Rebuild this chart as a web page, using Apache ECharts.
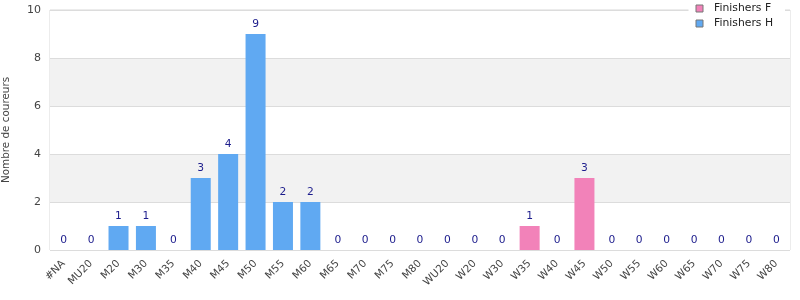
<!DOCTYPE html>
<html><head><meta charset="utf-8">
<script src="https://cdn.jsdelivr.net/npm/echarts@6/dist/echarts.min.js"></script>
<style>html,body{margin:0;padding:0;background:#fff}#c{width:800px;height:300px}</style>
</head><body><div id="c"></div>
<script>
var categories = ['#NA','MU20','M20','M30','M35','M40','M45','M50','M55','M60','M65','M70','M75','M80','WU20','W20','W30','W35','W40','W45','W50','W55','W60','W65','W70','W75','W80'];
var finishersH = [0,0,1,1,0,3,4,9,2,2,0,0,0,0,'-','-','-','-','-','-','-','-','-','-','-','-','-'];
var finishersF = ['-','-','-','-','-','-','-','-','-','-','-','-','-','-',0,0,0,1,0,3,0,0,0,0,0,0,0];
var yTicks = [0,2,4,6,8,10];

var FONT = 'DejaVu Sans';
var FS = 10.4;
var chart = echarts.init(document.getElementById('c'), null, {renderer:'canvas'});
var lbl = {show:true, position:'top', color:'#1c1c8c', fontFamily:FONT, fontSize:FS+0.3, distance:4};
chart.setOption({
  animation:false,
  textStyle:{fontFamily:FONT},
  grid:{left:50, right:10, top:10, bottom:50, show:true, borderColor:'#d9d9d9', borderWidth:1, containLabel:false, outerBoundsMode:'none'},
  legend:{
    orient:'vertical', right:15, top:1, itemWidth:7, itemHeight:7, itemGap:4,
    backgroundColor:'#fff', padding:[2,12,2,7],
    icon:'rect',
    textStyle:{fontFamily:FONT, fontSize:FS+0.4, color:'#222', padding:[0,0,0,6]},
    data:[{name:'Finishers F', itemStyle:{borderColor:'#777',borderWidth:1}},{name:'Finishers H', itemStyle:{borderColor:'#777',borderWidth:1}}]
  },
  xAxis:{
    type:'category', data:categories,
    axisLine:{show:false}, axisTick:{show:false},
    axisLabel:{rotate:45, interval:0, fontFamily:FONT, fontSize:FS, color:'#444', margin:12}
  },
  yAxis:{
    type:'value', min:yTicks[0], max:yTicks[yTicks.length-1], interval:2,
    name:'Nombre de coureurs', nameLocation:'middle', nameGap:39, nameRotate:90,
    nameTextStyle:{fontFamily:FONT, fontSize:FS, color:'#444'},
    axisLine:{show:false}, axisTick:{show:false},
    axisLabel:{fontFamily:FONT, fontSize:FS+0.6, color:'#444', margin:9},
    splitLine:{lineStyle:{color:'#dcdcdc'}},
    splitArea:{show:true, areaStyle:{color:['#ffffff','#f2f2f2']}}
  },
  series:[
    {name:'Finishers F', type:'bar', stack:'a', data:finishersF, barCategoryGap:'27%', itemStyle:{color:'#f282b9'}, label:lbl},
    {name:'Finishers H', type:'bar', stack:'a', data:finishersH, barCategoryGap:'27%', itemStyle:{color:'#60a9f2'}, label:lbl}
  ]
});
</script></body></html>
